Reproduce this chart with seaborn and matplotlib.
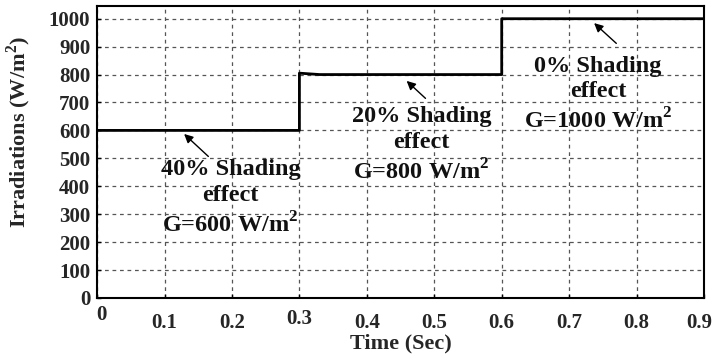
import matplotlib
matplotlib.use("Agg")
import matplotlib.pyplot as plt
import matplotlib.transforms as mtransforms
import seaborn as sns
import pandas as pd

# Irradiation profile (step changes in shading)
time_s = [0.0, 0.3, 0.3, 0.33, 0.6, 0.6, 0.9]
irradiance = [600, 600, 805, 800, 800, 1000, 1000]

x_ticks = [0, 0.1, 0.2, 0.3, 0.4, 0.5, 0.6, 0.7, 0.8, 0.9]
y_ticks = [0, 100, 200, 300, 400, 500, 600, 700, 800, 900, 1000]

labels = ["40% Shading\neffect\nG=600 W/m$^\\mathbf{2}$",
          "20% Shading\neffect\nG=800 W/m$^\\mathbf{2}$",
          "0% Shading\neffect\nG=1000 W/m$^\\mathbf{2}$"]
label_xy = [(0.198, 356), (0.481, 546), (0.743, 728)]
arrow_heads = [(0.126, 594), (0.456, 784), (0.734, 991)]
arrow_tails = [(0.168, 500), (0.490, 708), (0.773, 905)]

sns.set_theme(style="white")
plt.rcParams["font.family"] = ["Liberation Serif", "DejaVu Serif"]
plt.rcParams["font.weight"] = "bold"
plt.rcParams["mathtext.fontset"] = "custom"
plt.rcParams["mathtext.rm"] = "Liberation Serif:bold"
plt.rcParams["mathtext.bf"] = "Liberation Serif:bold"

fig = plt.figure(figsize=(7.14, 3.62), dpi=100)
ax = fig.add_axes([0.136, 0.177, 0.850, 0.806])

df = pd.DataFrame({"t": time_s, "G": irradiance})
sns.lineplot(data=df, x="t", y="G", ax=ax, color="black", lw=2.0,
             sort=False, estimator=None)

ax.set_xlim(0, 0.9)
ax.set_ylim(0, 1045)
ax.set_xticks(x_ticks)
ax.set_xticklabels(["0"] + [f"{v:.1f}" for v in x_ticks[1:]])
ax.set_yticks(y_ticks)
ax.tick_params(axis="both", labelsize=15, direction="in", length=3,
               width=1.0, color="black", bottom=True, left=True)
ax.tick_params(axis="x", pad=11)
ax.tick_params(axis="y", pad=5)
for lab in ax.get_xticklabels() + ax.get_yticklabels():
    lab.set_fontweight("bold")

xlabs = ax.get_xticklabels()
xlabs[0].set_transform(xlabs[0].get_transform() +
                       mtransforms.ScaledTranslation(0.04, 0.08, fig.dpi_scale_trans))
xlabs[3].set_transform(xlabs[3].get_transform() +
                       mtransforms.ScaledTranslation(0, 0.04, fig.dpi_scale_trans))
xlabs[-1].set_transform(xlabs[-1].get_transform() +
                        mtransforms.ScaledTranslation(-0.05, 0, fig.dpi_scale_trans))

ax.grid(True, color="#555555", linestyle=(0, (3, 3)), lw=0.9)
for sp in ax.spines.values():
    sp.set_color("black")
    sp.set_linewidth(1.5)

ax.set_xlabel("Time (Sec)", fontsize=16, fontweight="bold", labelpad=0)
ax.set_ylabel("Irradiations (W/m$^\\mathbf{2}$)", fontsize=16,
              fontweight="bold")
ax.yaxis.set_label_coords(-0.106, 0.57)

for txt, (tx, ty), head, tail in zip(labels, label_xy, arrow_heads, arrow_tails):
    ax.text(tx, ty, txt, ha="center", va="center", fontsize=17.5,
            fontweight="bold", linespacing=1.3, color="#111111")
    ax.annotate("", xy=head, xytext=tail,
                arrowprops=dict(arrowstyle="-|>", color="black", lw=1.0,
                                mutation_scale=13))

fig.savefig("out.png", dpi=100)
